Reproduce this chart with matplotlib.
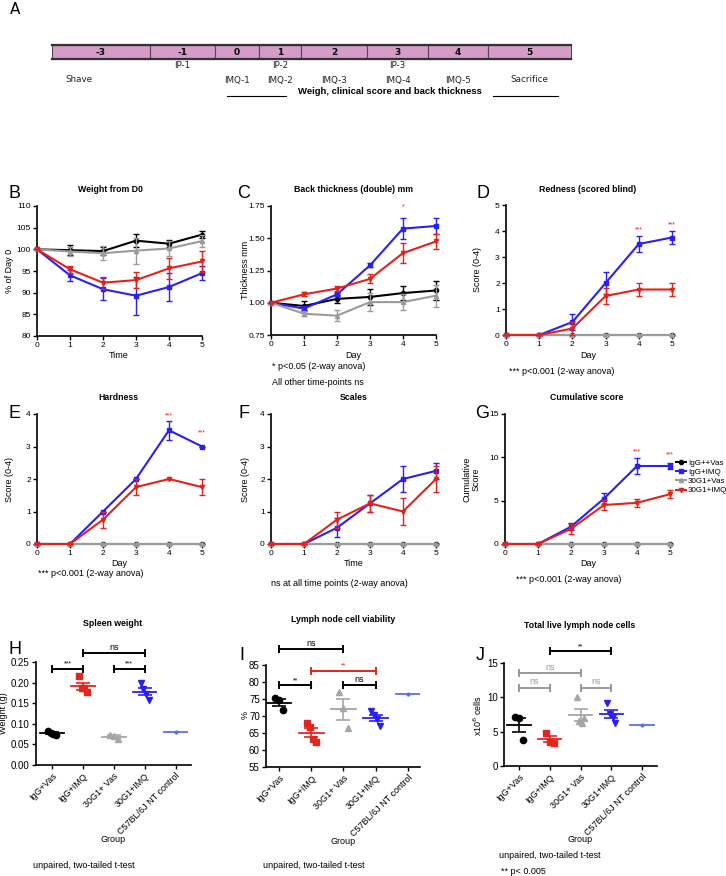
import numpy as np
import matplotlib
matplotlib.use("Agg")
import matplotlib.pyplot as plt
from matplotlib.patches import Rectangle
from matplotlib.lines import Line2D

plt.rcParams['font.family'] = ['Liberation Sans', 'DejaVu Sans']

# ---------------- data ----------------
# timeline (panel A)
timeline_days = ["-3", "-1", "0", "1", "2", "3", "4", "5"]
ip_labels = {"-1": "IP-1", "1": "IP-2", "3": "IP-3"}
event_labels = {"0": "IMQ-1", "1": "IMQ-2", "2": "IMQ-3", "3": "IMQ-4",
                "4": "IMQ-5", "5": "Sacrifice"}

# time course panels (B-G)
days = [0, 1, 2, 3, 4, 5]
series_names = ["IgG++Vas", "IgG+IMQ", "30G1+Vas", "30G1+IMQ"]

weight_igg_vas = [100, 99.8, 99.6, 102.0, 101.3, 103.4]
weight_igg_imq = [100, 94.0, 90.8, 89.3, 91.3, 94.5]
weight_30g1_vas = [100, 99.5, 99.1, 99.7, 100.2, 101.9]
weight_30g1_imq = [100, 95.4, 92.3, 92.9, 95.6, 97.2]
weight_sem = [[0, 1.2, 1.0, 1.5, 0.8, 0.8], [0, 1.2, 2.5, 4.4, 3.2, 1.6],
              [0, 1.0, 1.6, 3.0, 1.8, 1.4], [0, 0.8, 1.4, 1.8, 2.5, 2.5]]

thick_igg_vas = [1.0, 0.975, 1.03, 1.045, 1.075, 1.095]
thick_igg_imq = [1.0, 0.955, 1.065, 1.29, 1.575, 1.595]
thick_30g1_vas = [1.0, 0.915, 0.90, 1.005, 1.005, 1.055]
thick_30g1_imq = [1.0, 1.065, 1.11, 1.185, 1.385, 1.475]
thick_sem = [[0, 0.035, 0.03, 0.065, 0.055, 0.07], [0, 0.02, 0.01, 0.015, 0.08, 0.065],
             [0, 0.02, 0.04, 0.07, 0.065, 0.085], [0, 0.015, 0.02, 0.035, 0.075, 0.06]]

zeros = [0, 0, 0, 0, 0, 0]
red_igg_imq = [0, 0, 0.5, 2.0, 3.5, 3.75]
red_30g1_imq = [0, 0, 0.25, 1.5, 1.75, 1.75]
red_sem = [zeros, [0, 0, 0.29, 0.41, 0.29, 0.25], zeros, [0, 0, 0.25, 0.29, 0.25, 0.25]]

hard_igg_imq = [0, 0, 1.0, 2.0, 3.5, 3.0]
hard_30g1_imq = [0, 0, 0.75, 1.75, 2.0, 1.75]
hard_sem = [zeros, [0, 0, 0, 0, 0.29, 0], zeros, [0, 0, 0.25, 0.25, 0, 0.25]]

scale_igg_imq = [0, 0, 0.5, 1.25, 2.0, 2.25]
scale_30g1_imq = [0, 0, 0.75, 1.25, 1.0, 2.0]
scale_sem = [zeros, [0, 0, 0.29, 0.25, 0.41, 0.25], zeros, [0, 0, 0.25, 0.25, 0.41, 0.41]]

cum_igg_imq = [0, 0, 2.0, 5.25, 9.0, 9.0]
cum_30g1_imq = [0, 0, 1.75, 4.5, 4.75, 5.75]
cum_sem = [zeros, [0, 0, 0.4, 0.6, 0.9, 0.4], zeros, [0, 0, 0.6, 0.6, 0.5, 0.45]]

# endpoint panels (H-J)
groups = ["IgG+Vas", "IgG+IMQ", "30G1+ Vas", "30G1+IMQ", "C57BL/6J NT control"]
spleen = [[0.082, 0.078, 0.076, 0.072], [0.215, 0.188, 0.186, 0.176],
          [0.073, 0.071, 0.062], [0.198, 0.185, 0.172, 0.157], [0.080]]
viability = [[75.2, 74.6, 71.8], [67.9, 66.8, 63.2, 62.5],
             [77.0, 72.5, 66.5], [71.5, 70.3, 69.0, 67.0], [76.5]]
live_cells = [[7.1, 7.0, 3.8], [4.8, 3.5, 3.4],
              [10.0, 6.6, 6.2, 7.0], [9.2, 7.6, 7.2, 6.3], [5.9]]

# ---------------- style ----------------
W, H = 726, 876
line_colors = ["#000000", "#2A1FF5", "#9B9B9B", "#E2231A"]
line_markers = ["o", "s", "^", "v"]
draw_order = [0, 2, 1, 3]
scat_colors = ["#000000", "#E0261E", "#A6A6A6", "#2A1FF5", "#5B72E0"]
scat_markers = ["o", "s", "^", "v", "o"]

fig = plt.figure(figsize=(W / 100, H / 100), dpi=100)


def add_ax(x0, y0, x1, y1):
    return fig.add_axes([x0 / W, 1 - y1 / H, (x1 - x0) / W, (y1 - y0) / H])


def ftext(x, y, s, **kw):
    kw.setdefault("va", "center")
    return fig.text(x / W, 1 - y / H, s, **kw)


def style_axes(ax, labelsize=6):
    for side in ["top", "right"]:
        ax.spines[side].set_visible(False)
    for side in ["left", "bottom"]:
        ax.spines[side].set_linewidth(1.2)
    ax.tick_params(length=3, width=1, labelsize=labelsize, pad=1.5)


# ---------------- panel A: timeline ----------------
ax0 = fig.add_axes([0, 1 - 140 / H, 1, 140 / H])
ax0.set_xlim(0, W)
ax0.set_ylim(140, 0)
ax0.axis("off")
edges = [52, 150, 215, 259, 301, 367, 428, 488, 571]
for i, d in enumerate(timeline_days):
    ax0.add_patch(Rectangle((edges[i], 45), edges[i + 1] - edges[i], 14,
                            facecolor="#D49CC6", edgecolor="#5a4454", lw=0.8))
    mid = (edges[i] + edges[i + 1]) / 2
    ax0.text(mid, 52.5, d, ha="center", va="center", fontsize=6.5,
             fontweight="bold", family="DejaVu Sans")
    if d in ip_labels:
        ax0.text(mid, 66, ip_labels[d], ha="center", va="center", fontsize=6.3,
                 family="DejaVu Sans", color="#222222")
    if d in event_labels:
        ax0.text(mid, 80, event_labels[d], ha="center", va="center", fontsize=6.3,
                 family="DejaVu Sans", color="#222222")
ax0.text(65, 80, "Shave", ha="left", va="center", fontsize=6.3,
         family="DejaVu Sans", color="#222222")
ax0.plot([edges[0], edges[-1]], [45, 45], color="#333333", lw=1.6)
ax0.plot([edges[0], edges[-1]], [59, 59], color="#333333", lw=1.6)
ax0.text(390, 92, "Weigh, clinical score and back thickness", ha="center",
         va="center", fontsize=6.8, fontweight="bold")
ax0.plot([227, 286], [96, 96], color="black", lw=0.8)
ax0.plot([493, 558], [96, 96], color="black", lw=0.8)
ftext(10, 10, "A", fontsize=11, family="DejaVu Sans")


# ---------------- panels B-G ----------------
def time_panel(box, series, sems, ylim, yticks, fmt=None):
    ax = add_ax(*box)
    for k in draw_order:
        eb = ax.errorbar(days, series[k], yerr=sems[k], color=line_colors[k],
                         marker=line_markers[k], ms=3, lw=1.5, elinewidth=1,
                         capsize=2, capthick=1, zorder=3 + k)
        eb.lines[0].set_clip_on(False)
        for a in list(eb.lines[1]) + list(eb.lines[2]):
            a.set_clip_on(False)
    ax.set_xlim(0, 5)
    ax.set_ylim(*ylim)
    ax.set_xticks(days)
    ax.set_yticks(yticks)
    if fmt:
        ax.set_yticklabels([fmt % t for t in yticks])
    style_axes(ax)
    return ax


def stars(ax, pts, text="***"):
    for x, y in pts:
        ax.text(x, y, text, ha="center", va="center", color="#E2231A", fontsize=5)


axB = time_panel((37, 206, 202, 336),
                 [weight_igg_vas, weight_igg_imq, weight_30g1_vas, weight_30g1_imq],
                 weight_sem, (80, 110), [80, 85, 90, 95, 100, 105, 110])
axC = time_panel((271, 206, 436, 335),
                 [thick_igg_vas, thick_igg_imq, thick_30g1_vas, thick_30g1_imq],
                 thick_sem, (0.75, 1.75), [0.75, 1.0, 1.25, 1.5, 1.75], "%.2f")
stars(axC, [(4, 1.74)], "*")
axD = time_panel((506, 205, 672, 335), [zeros, red_igg_imq, zeros, red_30g1_imq],
                 red_sem, (0, 5), [0, 1, 2, 3, 4, 5])
stars(axD, [(4, 4.05), (5, 4.25)])
axE = time_panel((37, 414, 202, 544), [zeros, hard_igg_imq, zeros, hard_30g1_imq],
                 hard_sem, (0, 4), [0, 1, 2, 3, 4])
stars(axE, [(4, 3.95), (5, 3.42)])
axF = time_panel((271, 414, 436, 544), [zeros, scale_igg_imq, zeros, scale_30g1_imq],
                 scale_sem, (0, 4), [0, 1, 2, 3, 4])
axG = time_panel((505, 414, 670, 544), [zeros, cum_igg_imq, zeros, cum_30g1_imq],
                 cum_sem, (0, 15), [0, 5, 10, 15])
stars(axG, [(4, 10.6), (5, 10.3)])

handles = [Line2D([], [], color=line_colors[k], marker=line_markers[k], ms=3, lw=1.5)
           for k in range(4)]
fig.legend(handles, series_names, loc="upper left", bbox_to_anchor=(676 / W, 1 - 459 / H),
           fontsize=5.8, frameon=False, handlelength=1.2, handletextpad=0.3,
           labelspacing=0.2, borderpad=0, borderaxespad=0)

titles = [("Weight from D0", 110, 189), ("Back thickness (double) mm", 353, 189),
          ("Redness (scored blind)", 588, 189), ("Hardness", 118, 397),
          ("Scales", 354, 397), ("Cumulative score", 587, 397),
          ("Spleen weight", 113, 623), ("Lymph node cell viability", 343, 619),
          ("Total live lymph node cells", 580, 625)]
for t, x, y in titles:
    ftext(x, y, t, ha="center", fontsize=6.3, fontweight="bold")

letters = [("B", 9, 193), ("C", 237, 193), ("D", 476, 193), ("E", 9, 413),
           ("F", 238, 413), ("G", 475, 413), ("H", 9, 650), ("I", 239, 655),
           ("J", 476, 656)]
for t, x, y in letters:
    ftext(x, y, t, ha="left", fontsize=13)

xlabels = [("Time", 119, 355), ("Day", 353, 355), ("Day", 588, 355),
           ("Day", 119, 563), ("Time", 354, 563), ("Day", 588, 563),
           ("Group", 113, 840), ("Group", 343, 841), ("Group", 580, 840)]
for t, x, y in xlabels:
    ftext(x, y, t, ha="center", fontsize=6.5)

ylabels = [("% of Day 0", 10, 271), ("Thickness mm", 245, 270), ("Score (0-4)", 478, 270),
           ("Score (0-4)", 10, 479), ("Score (0-4)", 245, 479),
           ("Cumulative\nScore", 472, 479), ("Weight (g)", 4, 713), ("%", 245, 715),
           ("x10$^{6}$ cells", 478, 715)]
for t, x, y in ylabels:
    ftext(x, y, t, ha="center", rotation=90, fontsize=6.5, linespacing=1.0)

notes = [("* p<0.05 (2-way anova)", 272, 367), ("All other time-points ns", 272, 383),
         ("*** p<0.001 (2-way anova)", 509, 371), ("*** p<0.001 (2-way anova)", 38, 574),
         ("ns at all time points (2-way anova)", 271, 583),
         ("*** p<0.001 (2-way anova)", 516, 579),
         ("unpaired, two-tailed t-test", 33, 865), ("unpaired, two-tailed t-test", 263, 865),
         ("unpaired, two-tailed t-test", 499, 856), ("** p< 0.005", 501, 871)]
for t, x, y in notes:
    ftext(x, y, t, ha="left", fontsize=6.5)


# ---------------- panels H-J ----------------
def scatter_panel(box, values, xlim, ylim, yticks, fmt):
    ax = add_ax(*box)
    for i, vals in enumerate(values):
        col = scat_colors[i]
        n = len(vals)
        m = np.mean(vals)
        if n > 1:
            offs = np.linspace(-0.13, 0.13, n)
            ax.plot(i + offs, vals, ls="none", marker=scat_markers[i], color=col,
                    ms=4.5, clip_on=False, zorder=3)
            sem = np.std(vals, ddof=1) / np.sqrt(n)
            ax.errorbar(i, m, yerr=sem, color=col, capsize=5, elinewidth=1.2,
                        capthick=1.2, zorder=4)
        else:
            ax.plot([i], vals, ls="none", marker="o", color=col, ms=2, zorder=3)
        ax.plot([i - 0.38, i + 0.38], [m, m], color=col, lw=1.3, zorder=4)
    ax.set_xlim(*xlim)
    ax.set_ylim(*ylim)
    ax.set_yticks(yticks)
    ax.set_yticklabels([fmt % t for t in yticks])
    ax.set_xticks(range(len(groups)))
    ax.set_xticklabels(groups, rotation=45, ha="right", rotation_mode="anchor")
    style_axes(ax, labelsize=7)
    ax.tick_params(axis="x", labelsize=6.5)
    return ax


def bracket(ax, x1, x2, y, label, color="black", fs=6.5):
    ax.plot([x1, x2], [y, y], color=color, lw=1.4, marker="|", ms=6, mew=1.4,
            clip_on=False)
    ax.annotate(label, ((x1 + x2) / 2, y), xytext=(0, 1), textcoords="offset points",
                ha="center", va="bottom", color=color, fontsize=fs, annotation_clip=False)


axH = scatter_panel((36, 662, 191, 765), spleen, (-0.52, 4.5), (0, 0.25),
                    [0, 0.05, 0.10, 0.15, 0.20, 0.25], "%.2f")
bracket(axH, 0, 1, 0.233, "***", fs=5)
bracket(axH, 2, 3, 0.233, "***", fs=5)
bracket(axH, 1, 3, 0.272, "ns")

axI = scatter_panel((266, 665, 420, 767), viability, (-0.41, 4.38), (55, 85),
                    [55, 60, 65, 70, 75, 80, 85], "%d")
bracket(axI, 0, 2, 89.7, "ns")
bracket(axI, 1, 3, 83.2, "**", color="#E2231A", fs=5)
bracket(axI, 0, 1, 79, "**", fs=5)
bracket(axI, 2, 3, 79, "ns")

axJ = scatter_panel((504, 663, 657, 766), live_cells, (-0.49, 4.49), (0, 15),
                    [0, 5, 10, 15], "%d")
bracket(axJ, 1, 3, 16.7, "**", fs=5)
bracket(axJ, 0, 2, 13.5, "ns", color="#999999")
bracket(axJ, 0, 1, 11.4, "ns", color="#999999")
bracket(axJ, 2, 3, 11.4, "ns", color="#999999")

fig.savefig("out.png", dpi=100)
